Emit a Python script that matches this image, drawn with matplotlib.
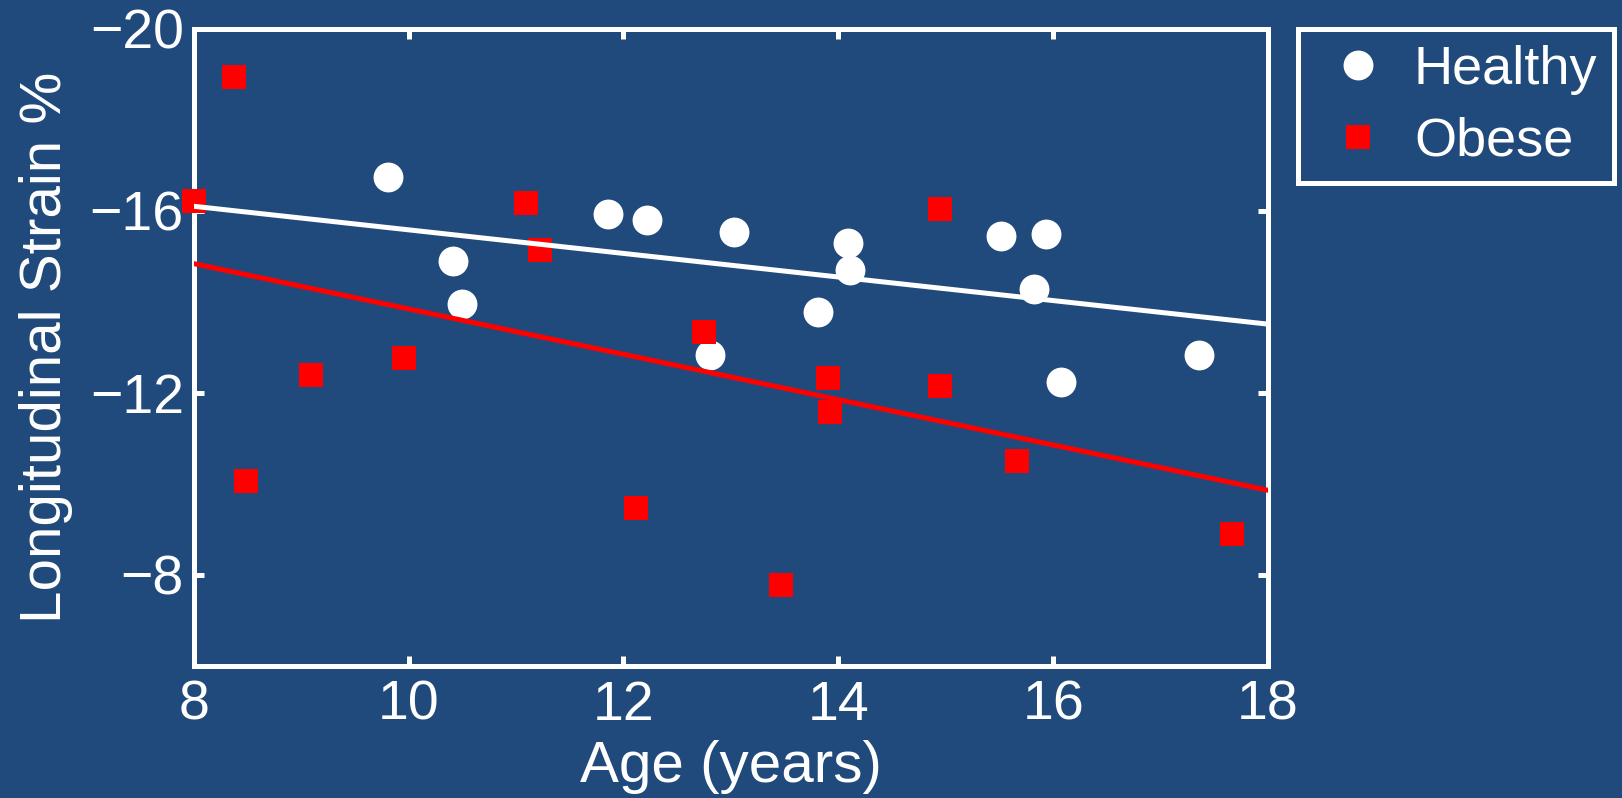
import numpy as np
import matplotlib
matplotlib.use("Agg")
import matplotlib.pyplot as plt

plt.rcParams['font.family'] = ['Liberation Sans', 'DejaVu Sans']

# ---- data ----
healthy_age = [9.81, 10.41, 10.50, 11.86, 12.22, 13.03, 12.81, 14.09, 14.11,
               13.81, 15.51, 15.93, 15.82, 16.07, 17.36]
healthy_strain = [-16.75, -14.89, -13.96, -15.92, -15.80, -15.53, -12.84, -15.30,
                  -14.70, -13.78, -15.45, -15.50, -14.29, -12.25, -12.84]

obese_age = [8.38, 8.00, 11.09, 11.22, 9.09, 9.96, 8.49, 12.12, 12.75,
             13.90, 13.92, 14.95, 14.95, 13.47, 15.66, 17.66]
obese_strain = [-18.95, -16.22, -16.17, -15.14, -12.39, -12.76, -10.07, -9.47, -13.33,
                -12.32, -11.57, -16.03, -12.16, -7.77, -10.51, -8.91]

# fitted trend lines (value at age 8, value at age 18)
fit_age = [8, 18]
healthy_fit = [-16.10, -13.51]
obese_fit = [-14.84, -9.86]

x_ticks = [8, 10, 12, 14, 16, 18]
y_ticks = [-20, -16, -12, -8]

bg = '#214a7c'

fig = plt.figure(figsize=(16.22, 7.98), dpi=100, facecolor=bg)
ax = fig.add_axes([0.1194, 0.1654, 0.6624, 0.7986])
ax.set_facecolor(bg)

ax.plot(healthy_age, healthy_strain, 'o', color='white', markersize=21.5,
        markeredgewidth=0, label='Healthy', zorder=3, clip_on=False)
ax.plot(obese_age, obese_strain, 's', color='#ff0000', markersize=17.5,
        markeredgewidth=0, label='Obese', zorder=4, clip_on=False)
ax.plot(fit_age, healthy_fit, '-', color='white', linewidth=3.6, zorder=5)
ax.plot(fit_age, obese_fit, '-', color='#ff0000', linewidth=3.6, zorder=5)

ax.set_xlim(8, 18)
ax.set_ylim(-6, -20)
ax.set_xticks(x_ticks)
ax.set_yticks(y_ticks)

for s in ax.spines.values():
    s.set_color('white')
    s.set_linewidth(3.6)

ax.tick_params(direction='in', length=7, width=3.6, color='white',
               labelcolor='white', labelsize=40, top=True, right=True)
ax.tick_params(axis='x', pad=10)
ax.tick_params(axis='y', pad=7)

ax.set_xlabel('Age (years)', fontsize=42, color='white', labelpad=6)
ax.set_ylabel('Longitudinal Strain %', fontsize=42, color='white', labelpad=12)

leg = ax.legend(loc='upper left', bbox_to_anchor=(1298/1622, 1 - 29/798),
                bbox_transform=fig.transFigure, fontsize=39, frameon=True,
                fancybox=False, facecolor=bg, edgecolor='white', framealpha=1,
                handlelength=1.62, handletextpad=0.22, borderpad=0.3,
                labelspacing=0.4, borderaxespad=0)
leg.get_frame().set_linewidth(3.6)
for t in leg.get_texts():
    t.set_color('white')

fig.savefig('out.png', dpi=100, facecolor=bg)
